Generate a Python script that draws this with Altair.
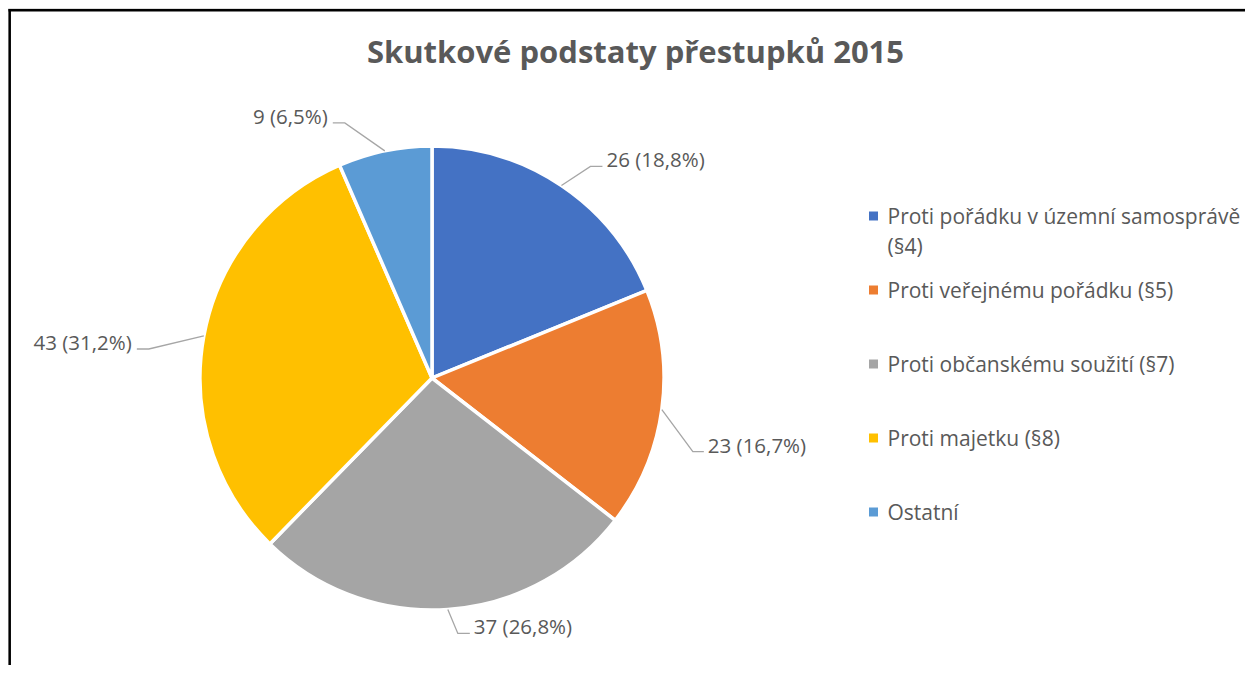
import altair as alt
import numpy as np
import pandas as pd

# ---- data ----
categories = [
    "Proti pořádku v územní samosprávě (§4)",
    "Proti veřejnému pořádku (§5)",
    "Proti občanskému soužití (§7)",
    "Proti majetku (§8)",
    "Ostatní",
]
legend_labels = [
    "Proti pořádku v územní samosprávě\n(§4)",
    "Proti veřejnému pořádku (§5)",
    "Proti občanskému soužití (§7)",
    "Proti majetku (§8)",
    "Ostatní",
]
counts = [26, 23, 37, 43, 9]
colors = ["#4472C4", "#ED7D31", "#A5A5A5", "#FFC000", "#5B9BD5"]
title_text = "Skutkové podstaty přestupků 2015"

# ---- layout (pixels) ----
W, H = 1237, 657
CX, CY, R = 424, 370, 232
# leader-line geometry relative to the slice's mid-angle anchor on the rim
elbow_dx = [29, 31, 10, -55, -40]
elbow_dy = [-19, 42, 24, 13, -28]
tail_dx = [12, 11, 12, -12, -12]
LEG_X, LEG_Y0, LEG_STEP = 865.5, 208, 74

FONT = "Open Sans"
TXT = "#595959"

total = sum(counts)
frac = np.array(counts) / total
cum = np.concatenate([[0], np.cumsum(frac)[:-1]])
mid = (cum + frac / 2) * 2 * np.pi
ax = CX + R * np.sin(mid)
ay = CY - R * np.cos(mid)

pie_df = pd.DataFrame({"cat": categories, "n": counts, "ord": range(len(counts))})

rows = []
lab_rows = []
for i, c in enumerate(categories):
    ex, ey = ax[i] + elbow_dx[i], ay[i] + elbow_dy[i]
    tx = ex + tail_dx[i]
    rows += [
        {"cat": c, "s": 0, "x": ax[i], "y": ay[i]},
        {"cat": c, "s": 1, "x": ex, "y": ey},
        {"cat": c, "s": 2, "x": tx, "y": ey},
    ]
    pct = f"{frac[i]*100:.1f}".replace(".", ",")
    lab_rows.append({"cat": c, "x": tx, "y": ey,
                     "side": "R" if tail_dx[i] > 0 else "L",
                     "label": f"{counts[i]} ({pct}%)"})
line_df = pd.DataFrame(rows)
lab_df = pd.DataFrame(lab_rows)

leg_df = pd.DataFrame({
    "cat": categories,
    "label": legend_labels,
    "y": [LEG_Y0 + i * LEG_STEP for i in range(len(categories))],
})

xs = alt.Scale(domain=[0, W], range=[0, W], nice=False, zero=False)
ys = alt.Scale(domain=[0, H], range=[0, H], nice=False, zero=False)
col = alt.Color("cat:N", scale=alt.Scale(domain=categories, range=colors), legend=None)

pie = alt.Chart(pie_df).mark_arc(
    radius=R, stroke="white", strokeWidth=3.5
).encode(
    theta=alt.Theta("n:Q", stack=True),
    order=alt.Order("ord:Q"),
    color=col,
    x=alt.value(CX),
    y=alt.value(CY),
)

leaders = alt.Chart(line_df).mark_line(color="#A6A6A6", strokeWidth=1.3).encode(
    x=alt.X("x:Q", scale=xs, axis=None),
    y=alt.Y("y:Q", scale=ys, axis=None),
    detail="cat:N",
    order="s:Q",
)

LAB_FS = 20.5
lab_r = alt.Chart(lab_df).transform_filter("datum.side == 'R'").mark_text(
    align="left", baseline="middle", dx=4, dy=-5, font=FONT, fontSize=LAB_FS, color=TXT
).encode(x=alt.X("x:Q", scale=xs), y=alt.Y("y:Q", scale=ys), text="label:N")

lab_l = alt.Chart(lab_df).transform_filter("datum.side == 'L'").mark_text(
    align="right", baseline="middle", dx=-5, dy=-5, font=FONT, fontSize=LAB_FS, color=TXT
).encode(x=alt.X("x:Q", scale=xs), y=alt.Y("y:Q", scale=ys), text="label:N")

leg_sym = alt.Chart(leg_df).mark_square(size=81, opacity=1).encode(
    x=alt.value(LEG_X),
    y=alt.Y("y:Q", scale=ys),
    color=col,
)
leg_txt = alt.Chart(leg_df).mark_text(
    align="left", baseline="alphabetic", dx=14, dy=7.5, lineBreak="\n", lineHeight=30,
    font=FONT, fontSize=21, color=TXT
).encode(
    x=alt.value(LEG_X),
    y=alt.Y("y:Q", scale=ys),
    text="label:N",
)

title = alt.Chart(pd.DataFrame({"t": [title_text]})).mark_text(
    align="center", baseline="alphabetic", font=FONT, fontSize=31, fontWeight="bold", color=TXT
).encode(x=alt.value(627.5), y=alt.value(55), text="t:N")

border_l = alt.Chart(pd.DataFrame({"a": [0]})).mark_rule(color="black", strokeWidth=2.5).encode(
    x=alt.value(1.7), y=alt.value(1), y2=alt.value(H)
)
border_t = alt.Chart(pd.DataFrame({"a": [0]})).mark_rule(color="black", strokeWidth=2.5).encode(
    y=alt.value(2.3), x=alt.value(0.5), x2=alt.value(W)
)

chart = alt.layer(
    pie, leaders, lab_r, lab_l, leg_sym, leg_txt, title, border_l, border_t
).properties(
    width=W, height=H, padding=0, autosize=alt.AutoSizeParams(type="none")
).configure_view(stroke=None).configure(background="white")

chart.save("out.html", embed_options={"renderer": "svg", "actions": False})
